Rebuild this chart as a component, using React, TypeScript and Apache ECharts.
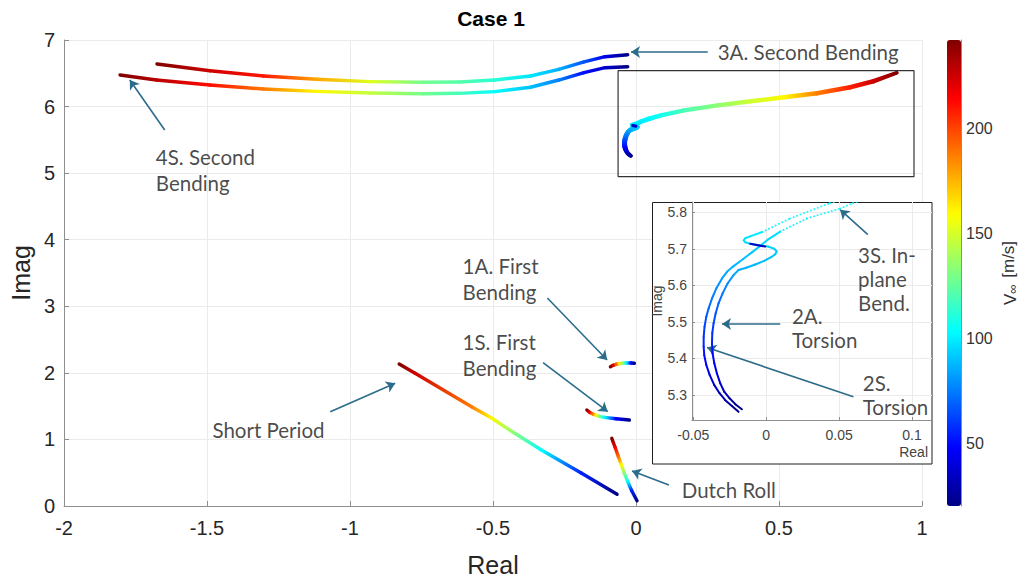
import React, { useEffect, useRef } from 'react';
import * as echarts from 'echarts';

// Each point: [real part, imaginary part, free-stream speed V∞ in m/s]
type Pt = [number, number, number];

const V_MIN = 20;
const V_MAX = 242;
const JET = ['#000084', '#0000ff', '#0080ff', '#00ffff', '#80ff80', '#ffff00', '#ff8000', '#ff0000', '#800000'];

const INSET_X_TICKS = [-0.05, 0, 0.05, 0.1];
const INSET_Y_TICKS = [5.3, 5.4, 5.5, 5.6, 5.7, 5.8];
const COLORBAR_TICKS = [50, 100, 150, 200];

// 3A. Second bending (antisymmetric)
const secondBendingAnti: Pt[] = [
  [-1.675, 6.64, 245], [-1.49, 6.539, 225], [-1.303, 6.459, 210], [-1.117, 6.41, 178],
  [-0.93, 6.374, 152], [-0.743, 6.365, 128], [-0.618, 6.369, 122], [-0.494, 6.399, 112],
  [-0.369, 6.459, 98], [-0.27, 6.56, 86], [-0.182, 6.67, 66], [-0.108, 6.749, 42], [-0.029, 6.779, 20],
];
// 4S. Second bending (symmetric)
const secondBendingSym: Pt[] = [
  [-1.804, 6.474, 245], [-1.677, 6.399, 230], [-1.49, 6.324, 212], [-1.303, 6.264, 188],
  [-1.117, 6.229, 160], [-0.93, 6.204, 146], [-0.743, 6.193, 128], [-0.618, 6.199, 118],
  [-0.494, 6.224, 104], [-0.369, 6.29, 90], [-0.27, 6.399, 76], [-0.182, 6.509, 50],
  [-0.108, 6.584, 36], [-0.029, 6.599, 20],
];
// 1A. First bending (antisymmetric)
const firstBendingAnti: Pt[] = [
  [-0.0895, 2.093, 245], [-0.0801, 2.114, 225], [-0.0697, 2.129, 195], [-0.0582, 2.138, 165],
  [-0.0463, 2.144, 135], [-0.0348, 2.148, 105], [-0.0174, 2.148, 50], [-0.0059, 2.144, 20],
];
// 1S. First bending (symmetric)
const firstBendingSym: Pt[] = [
  [-0.1718, 1.442, 245], [-0.1627, 1.407, 217], [-0.1509, 1.382, 188], [-0.1394, 1.362, 160],
  [-0.1279, 1.347, 132], [-0.1105, 1.332, 104], [-0.0697, 1.311, 48], [-0.0233, 1.292, 20],
];
// Short period
const shortPeriod: Pt[] = [
  [-0.8282, 2.133, 245], [-0.7725, 1.993, 225], [-0.5749, 1.492, 188], [-0.5052, 1.322, 160],
  [-0.424, 1.092, 132], [-0.331, 0.841, 104], [-0.1916, 0.496, 55], [-0.0662, 0.176, 20],
];
// Dutch roll
const dutchRoll: Pt[] = [
  [-0.0847, 1.017, 245], [-0.0732, 0.882, 217], [-0.0617, 0.741, 190], [-0.0512, 0.616, 160],
  [-0.0408, 0.491, 132], [-0.0289, 0.365, 104], [-0.015, 0.23, 55], [0.0035, 0.08, 20],
];
// 2S. Torsion (symmetric)
const torsionSym: Pt[] = [
  [-0.019, 5.254, 20], [-0.0235, 5.27, 24], [-0.0281, 5.286, 28], [-0.032, 5.305, 32],
  [-0.0356, 5.327, 36], [-0.0388, 5.355, 41], [-0.0411, 5.382, 46], [-0.0425, 5.409, 50],
  [-0.0429, 5.432, 54], [-0.0429, 5.459, 58], [-0.0423, 5.487, 62], [-0.0411, 5.514, 66],
  [-0.0395, 5.537, 70], [-0.0372, 5.564, 74], [-0.0342, 5.592, 78], [-0.0303, 5.619, 82],
  [-0.0269, 5.637, 85], [-0.0226, 5.652, 87], [-0.0158, 5.672, 89], [-0.0096, 5.691, 91],
  [-0.0041, 5.708, 93], [0.0014, 5.726, 95], [0.0096, 5.747, 97],
];
// 2A. Torsion (antisymmetric)
const torsionAnti: Pt[] = [
  [-0.0167, 5.261, 20], [-0.0212, 5.275, 24], [-0.0251, 5.291, 28], [-0.0288, 5.309, 32],
  [-0.0315, 5.332, 36], [-0.0338, 5.359, 41], [-0.0356, 5.387, 46], [-0.0368, 5.414, 50],
  [-0.0372, 5.441, 54], [-0.037, 5.469, 58], [-0.0361, 5.496, 62], [-0.0347, 5.523, 66],
  [-0.0327, 5.551, 70], [-0.0299, 5.578, 74], [-0.0265, 5.605, 78], [-0.0224, 5.628, 82],
  [-0.019, 5.642, 85], [-0.0137, 5.648, 87], [-0.0075, 5.657, 88], [-0.0014, 5.667, 89],
  [0.0034, 5.677, 90], [0.0062, 5.685, 91], [0.0072, 5.693, 92], [0.0055, 5.7, 93],
  [0.0014, 5.706, 94], [-0.0041, 5.709, 95], [-0.011, 5.714, 96], [-0.0144, 5.718, 97],
  [-0.0154, 5.723, 97], [-0.0144, 5.729, 98], [-0.011, 5.734, 98], [-0.0068, 5.74, 99],
  [-0.0027, 5.746, 99],
];
// 3S. In-plane bending branches leaving the torsion modes
const inPlaneFromAnti: Pt[] = [
  [-0.0027, 5.746, 99], [0.0164, 5.783, 101], [0.0438, 5.825, 103], [0.087, 5.874, 107],
  [0.168, 5.949, 119], [0.285, 6.024, 134], [0.401, 6.088, 148], [0.517, 6.148, 160],
  [0.633, 6.209, 187], [0.749, 6.299, 208], [0.83, 6.389, 225], [0.912, 6.509, 245],
];
const inPlaneFromSym: Pt[] = [
  [0.0096, 5.747, 97], [0.0279, 5.783, 100], [0.0507, 5.81, 102], [0.0596, 5.825, 103],
  [0.087, 5.862, 107], [0.168, 5.935, 119], [0.285, 6.01, 134], [0.401, 6.072, 148],
  [0.517, 6.13, 160], [0.633, 6.19, 187], [0.749, 6.28, 208], [0.83, 6.372, 225], [0.912, 6.505, 245],
];
// short low-speed piece where the torsion branches meet
const veeringLink: Pt[] = [
  [-0.011, 5.714, 35], [-0.0007, 5.706, 35],
];

// zoom frame around the torsion / in-plane branches
const ZOOM_REAL = [-0.0627, 0.972];
const ZOOM_IMAG = [4.947, 6.539];

interface Note { text: string; at: [number, number]; from: [number, number]; to: [number, number] }

const mainNotes: Note[] = [
  { text: '3A. Second Bending', at: [0.2857, 6.82], from: [0.251, 6.82], to: [-0.0174, 6.82] },
  { text: '4S. Second\nBending', at: [-1.679, 5.047], from: [-1.648, 5.648], to: [-1.77, 6.399] },
  { text: '1A. First\nBending', at: [-0.6063, 3.41], from: [-0.31, 3.125], to: [-0.101, 2.193] },
  { text: '1S. First\nBending', at: [-0.6063, 2.268], from: [-0.325, 2.153], to: [-0.0986, 1.417] },
  { text: 'Short Period', at: [-1.481, 1.142], from: [-1.069, 1.417], to: [-0.842, 1.843] },
  { text: 'Dutch Roll', at: [0.16, 0.24], from: [0.115, 0.315], to: [-0.0139, 0.526] },
];

const insetNotes: Note[] = [
  { text: '3S. In-\nplane\nBend.', at: [0.063, 5.617], from: [0.0697, 5.739], to: [0.0507, 5.807] },
  { text: '2A.\nTorsion', at: [0.0176, 5.483], from: [0.0096, 5.494], to: [-0.0303, 5.494] },
  { text: '2S.\nTorsion', at: [0.0662, 5.301], from: [0.0598, 5.295], to: [-0.0406, 5.43] },
];

// jet colour for a speed, interpolated the same way as the colour bar
function hexToRgb(h: string): number[] {
  return [1, 3, 5].map((i) => parseInt(h.slice(i, i + 2), 16));
}
const JET_RGB = JET.map(hexToRgb);
function jet(v: number): string {
  const f = Math.min(1, Math.max(0, (v - V_MIN) / (V_MAX - V_MIN)));
  const pos = f * (JET_RGB.length - 1);
  const i = Math.min(JET_RGB.length - 2, Math.floor(pos));
  const t = pos - i;
  const a = JET_RGB[i];
  const b = JET_RGB[i + 1];
  const c = a.map((x, k) => Math.round(x + (b[k] - x) * t));
  return `rgb(${c[0]},${c[1]},${c[2]})`;
}

// consecutive points -> [x1, y1, x2, y2, V1, V2, dotted flag]
function segments(curves: Pt[][], dotted: boolean): number[][] {
  const out: number[][] = [];
  curves.forEach((c) => {
    for (let i = 1; i < c.length; i++) {
      const a = c[i - 1];
      const b = c[i];
      out.push([a[0], a[1], b[0], b[1], a[2], b[2], dotted ? 1 : 0]);
    }
  });
  return out;
}

const makeRender = (width: number) => (_params: any, api: any) => {
  const a = api.coord([api.value(0), api.value(1)]);
  const b = api.coord([api.value(2), api.value(3)]);
  const dotted = api.value(6) === 1;
  const stroke = new echarts.graphic.LinearGradient(
    a[0], a[1], b[0] + 0.01, b[1] + 0.01,
    [{ offset: 0, color: jet(api.value(4)) }, { offset: 1, color: jet(api.value(5)) }],
    true,
  );
  return {
    type: 'line',
    shape: { x1: a[0], y1: a[1], x2: b[0], y2: b[1] },
    style: {
      stroke,
      lineWidth: width,
      lineCap: 'round',
      lineDash: dotted ? [0.1, 3.6] : null,
      opacity: dotted ? 0.85 : 1,
    },
  };
};

const ARROW = '#2b6c8b';
const TXT = '#262626';
const AXIS = '#8f8f8f';
const GRID = '#ebebeb';
const NOTE_FONT = 'Lato, "Noto Sans", sans-serif';
const AXIS_FONT = '"Liberation Sans", Arial, sans-serif';

function buildOption(): any {
  const mainSegs = segments(
    [secondBendingAnti, secondBendingSym, firstBendingAnti, firstBendingSym, shortPeriod, dutchRoll,
      torsionSym, torsionAnti, inPlaneFromAnti, inPlaneFromSym, veeringLink],
    false,
  );
  const insetSegs = [
    ...segments([torsionSym, torsionAnti], false),
    ...segments([inPlaneFromAnti, inPlaneFromSym], true),
    ...segments([veeringLink], false),
  ];

  const noteSeries = (notes: Note[], xi: number, lineHeight: number, z: number) => ({
    type: 'scatter',
    xAxisIndex: xi,
    yAxisIndex: xi,
    symbolSize: 0,
    silent: true,
    z,
    data: notes.map((n) => ({ name: n.text, value: n.at })),
    label: {
      show: true,
      position: 'right',
      distance: 0,
      formatter: '{b}',
      fontFamily: NOTE_FONT,
      fontSize: 20.5,
      lineHeight,
      color: '#1a1a1a',
      align: 'left',
    },
    markLine: {
      silent: true,
      symbol: ['none', 'arrow'],
      symbolSize: 9,
      label: { show: false },
      lineStyle: { color: ARROW, width: 1.6, type: 'solid' },
      data: notes.map((n) => [{ coord: n.from }, { coord: n.to }]),
    },
  });

  return {
    animation: false,
    backgroundColor: '#ffffff',
    title: {
      text: 'Case 1',
      left: 491,
      top: 8,
      padding: 0,
      textAlign: 'center',
      textStyle: { fontFamily: AXIS_FONT, fontWeight: 'bold', fontSize: 21, color: '#000' },
    },
    grid: [
      { left: 61, top: 40, width: 861, height: 466 },
      { left: 692, top: 202, width: 240, height: 218 },
      { left: 947, top: 40, width: 14, height: 466 },
    ],
    xAxis: [
      {
        gridIndex: 0, type: 'value', min: -2, max: 1, interval: 0.5,
        axisLine: { onZero: false, lineStyle: { color: AXIS } },
        axisTick: { inside: true, length: 5, lineStyle: { color: AXIS } },
        axisLabel: { fontFamily: AXIS_FONT, fontSize: 20, color: TXT, margin: 12 },
        splitLine: { show: true, lineStyle: { color: GRID } },
        name: 'Real', nameLocation: 'middle', nameGap: 46,
        nameTextStyle: { fontFamily: AXIS_FONT, fontSize: 25, color: TXT },
      },
      {
        gridIndex: 1, type: 'value', min: -0.0509, max: 0.1137, z: 5,
        axisLine: { onZero: false, lineStyle: { color: AXIS } },
        axisTick: { inside: true, length: 3, customValues: INSET_X_TICKS, lineStyle: { color: AXIS } },
        axisLabel: {
          customValues: INSET_X_TICKS, fontFamily: AXIS_FONT, fontSize: 14, color: '#444', margin: 8,
          formatter: (v: number) => String(Number(v.toFixed(2))),
        },
        splitLine: { show: true, lineStyle: { color: GRID } },
        name: 'Real', nameLocation: 'end', nameGap: 0,
        nameTextStyle: {
          fontFamily: AXIS_FONT, fontSize: 14, color: '#444', align: 'right', verticalAlign: 'top',
          padding: [25, 4, 0, 0],
        },
      },
      { gridIndex: 2, type: 'value', min: 0, max: 1, show: false },
    ],
    yAxis: [
      {
        gridIndex: 0, type: 'value', min: 0, max: 7, interval: 1,
        axisLine: { show: true, onZero: false, lineStyle: { color: AXIS } },
        axisTick: { show: true, inside: true, length: 5, lineStyle: { color: AXIS } },
        axisLabel: { fontFamily: AXIS_FONT, fontSize: 20, color: TXT, margin: 9 },
        splitLine: { show: true, lineStyle: { color: GRID } },
        name: 'Imag', nameLocation: 'middle', nameGap: 22, nameRotate: 90,
        nameTextStyle: { fontFamily: AXIS_FONT, fontSize: 25, color: TXT },
      },
      {
        gridIndex: 1, type: 'value', min: 5.2317, max: 5.828, z: 5,
        axisLine: { show: true, onZero: false, lineStyle: { color: AXIS } },
        axisTick: { show: true, inside: true, length: 3, customValues: INSET_Y_TICKS, lineStyle: { color: AXIS } },
        axisLabel: {
          customValues: INSET_Y_TICKS, fontFamily: AXIS_FONT, fontSize: 14, color: '#444', margin: 5,
          formatter: (v: number) => v.toFixed(1),
        },
        splitLine: { show: true, lineStyle: { color: GRID } },
        name: 'Imag', nameLocation: 'middle', nameGap: 27, nameRotate: 90,
        nameTextStyle: { fontFamily: AXIS_FONT, fontSize: 14, color: '#444', padding: [0, 0, 0, 20] },
      },
      {
        gridIndex: 2, type: 'value', min: V_MIN, max: V_MAX, position: 'right',
        axisLine: { show: true, onZero: false, lineStyle: { color: AXIS } },
        axisTick: { show: true, inside: true, length: 3, customValues: COLORBAR_TICKS, lineStyle: { color: '#555' } },
        axisLabel: { customValues: COLORBAR_TICKS, fontFamily: AXIS_FONT, fontSize: 16, color: '#333', margin: 5 },
        splitLine: { show: false },
        name: '{v|V}{s|∞} [m/s]', nameLocation: 'middle', nameGap: 36, nameRotate: 90,
        nameTextStyle: {
          fontFamily: AXIS_FONT, fontSize: 17, color: '#333',
          rich: {
            v: { fontFamily: AXIS_FONT, fontSize: 17, color: '#333', lineHeight: 22, verticalAlign: 'bottom' },
            s: { fontFamily: AXIS_FONT, fontSize: 13, color: '#333', lineHeight: 22, verticalAlign: 'bottom', padding: [0, 2, 0, 0] },
          },
        },
      },
    ],
    visualMap: {
      type: 'continuous',
      min: V_MIN,
      max: V_MAX,
      dimension: 4,
      seriesIndex: [0, 1],
      inRange: { color: JET },
      calculable: false,
      hoverLink: false,
      orient: 'vertical',
      left: 947,
      top: 40,
      padding: 0,
      itemWidth: 14,
      itemHeight: 466,
      text: null,
    },
    graphic: {
      elements: [
        {
          type: 'rect',
          silent: true,
          z: 4,
          shape: { x: 652.5, y: 202.5, width: 279.5, height: 261.5 },
          style: { fill: '#ffffff', stroke: '#1f1f1f', lineWidth: 1 },
        },
      ],
    },
    series: [
      {
        type: 'custom', xAxisIndex: 0, yAxisIndex: 0, silent: true, z: 2,
        dimensions: ['x1', 'y1', 'x2', 'y2', 'v1', 'v2', 'dotted'],
        encode: { x: [0, 2], y: [1, 3] },
        data: mainSegs,
        renderItem: makeRender(3.4),
      },
      {
        type: 'custom', xAxisIndex: 1, yAxisIndex: 1, silent: true, z: 6, clip: true,
        dimensions: ['x1', 'y1', 'x2', 'y2', 'v1', 'v2', 'dotted'],
        encode: { x: [0, 2], y: [1, 3] },
        data: insetSegs,
        renderItem: makeRender(2),
      },
      {
        type: 'line', xAxisIndex: 0, yAxisIndex: 0, silent: true, z: 3, symbol: 'none',
        lineStyle: { color: '#333', width: 1.2 },
        data: [
          [ZOOM_REAL[0], ZOOM_IMAG[0]], [ZOOM_REAL[1], ZOOM_IMAG[0]], [ZOOM_REAL[1], ZOOM_IMAG[1]],
          [ZOOM_REAL[0], ZOOM_IMAG[1]], [ZOOM_REAL[0], ZOOM_IMAG[0]],
        ],
      },
      noteSeries(mainNotes, 0, 26, 3),
      noteSeries(insetNotes, 1, 24, 7),
    ],
  };
}

export default function App() {
  const ref = useRef<HTMLDivElement>(null);
  useEffect(() => {
    if (!ref.current) return;
    const chart = echarts.init(ref.current, null, { renderer: 'svg' });
    chart.setOption(buildOption());
    return () => chart.dispose();
  }, []);
  return (
    <div
      ref={ref}
      style={{ position: 'fixed', left: 0, top: 0, width: 1022, height: 583, background: '#fff' }}
    />
  );
}
